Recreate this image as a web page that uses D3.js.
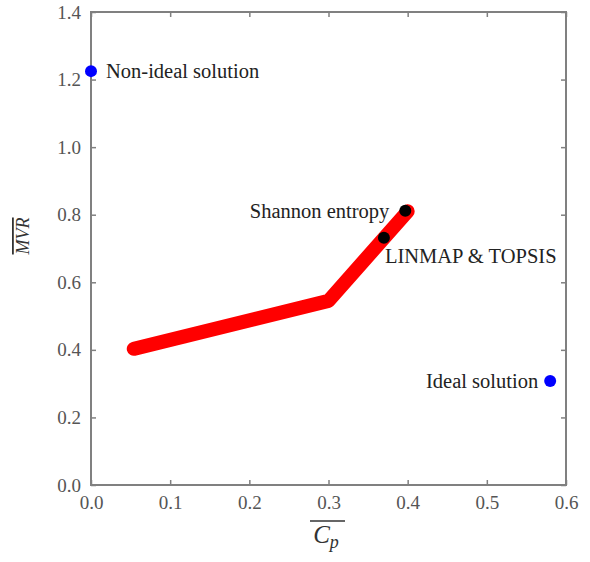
<!DOCTYPE html>
<html>
<head>
<meta charset="utf-8">
<script src="https://cdn.jsdelivr.net/npm/d3@7"></script>
<style>
  body { margin: 0; background: #fff; }
  svg text { font-family: "Liberation Serif", "Times New Roman", serif; }
</style>
</head>
<body>
<svg id="chart" width="590" height="562"></svg>
<script>
// pareto front (red curve)
var frontCp = [0.054, 0.30, 0.40];
var frontMvr = [0.403, 0.545, 0.81];

// decision points
var pointNames = ["Non-ideal solution", "Ideal solution", "Shannon entropy", "LINMAP & TOPSIS"];
var pointCp = [0.0, 0.58, 0.397, 0.37];
var pointMvr = [1.225, 0.308, 0.812, 0.732];
var pointColors = ["#0000ff", "#0000ff", "#000000", "#000000"];

var xTicks = [0, 0.1, 0.2, 0.3, 0.4, 0.5, 0.6];
var yTicks = [0, 0.2, 0.4, 0.6, 0.8, 1.0, 1.2, 1.4];

var svg = d3.select("#chart");
var plotL = 91, plotR = 566, plotT = 12, plotB = 485;

var x = d3.scaleLinear().domain([0, 0.6]).range([plotL, plotR]);
var y = d3.scaleLinear().domain([0, 1.4]).range([plotB, plotT]);

var axisColor = "#808080";

// frame
svg.append("rect")
  .attr("x", plotL).attr("y", plotT)
  .attr("width", plotR - plotL).attr("height", plotB - plotT)
  .attr("fill", "none").attr("stroke", axisColor).attr("stroke-width", 2);

// axes with inward ticks
function styleAxis(g) {
  g.select(".domain").remove();
  g.selectAll(".tick line").attr("stroke", axisColor).attr("stroke-width", 1.5);
  g.selectAll(".tick text").attr("fill", "#555").style("font-size", "19px");
}

svg.append("g").attr("transform", "translate(0," + plotB + ")")
  .call(d3.axisBottom(x).tickValues(xTicks).tickFormat(d3.format(".1f")).tickSizeInner(-5).tickPadding(11))
  .call(styleAxis);
svg.append("g").attr("transform", "translate(0," + plotT + ")")
  .call(d3.axisTop(x).tickValues(xTicks).tickFormat("").tickSizeInner(-5))
  .call(styleAxis);
svg.append("g").attr("transform", "translate(" + plotL + ",0)")
  .call(d3.axisLeft(y).tickValues(yTicks).tickFormat(d3.format(".1f")).tickSizeInner(-5).tickPadding(10))
  .call(styleAxis);
svg.append("g").attr("transform", "translate(" + plotR + ",0)")
  .call(d3.axisRight(y).tickValues(yTicks).tickFormat("").tickSizeInner(-5))
  .call(styleAxis);

// red front
var line = d3.line().x(function (d) { return x(d[0]); }).y(function (d) { return y(d[1]); });
svg.append("path")
  .datum(d3.zip(frontCp, frontMvr))
  .attr("d", line)
  .attr("fill", "none")
  .attr("stroke", "#ff0000")
  .attr("stroke-width", 14)
  .attr("stroke-linecap", "round")
  .attr("stroke-linejoin", "round");

// points
svg.selectAll("circle.pt")
  .data(pointNames)
  .enter().append("circle")
  .attr("class", "pt")
  .attr("cx", function (d, i) { return x(pointCp[i]); })
  .attr("cy", function (d, i) { return y(pointMvr[i]); })
  .attr("r", 6)
  .attr("fill", function (d, i) { return pointColors[i]; });

// labels
var labelOffsets = [[15, 7, "start"], [-12, 7, "end"], [-16, 7, "end"], [1, 25, "start"]];
svg.selectAll("text.lbl")
  .data(pointNames)
  .enter().append("text")
  .attr("class", "lbl")
  .attr("x", function (d, i) { return x(pointCp[i]) + labelOffsets[i][0]; })
  .attr("y", function (d, i) { return y(pointMvr[i]) + labelOffsets[i][1]; })
  .attr("text-anchor", function (d, i) { return labelOffsets[i][2]; })
  .attr("fill", "#222")
  .style("font-size", "20.5px")
  .text(function (d) { return d; });

// axis titles with overlines
var xt = svg.append("text")
  .attr("x", 326).attr("y", 543)
  .attr("text-anchor", "middle")
  .style("font-size", "25px").style("font-style", "italic")
  .attr("fill", "#333");
xt.append("tspan").text("C");
xt.append("tspan").attr("dy", 5).style("font-size", "18px").text("p");
svg.append("line")
  .attr("x1", 310).attr("x2", 345).attr("y1", 521).attr("y2", 521)
  .attr("stroke", "#333").attr("stroke-width", 1.5);

svg.append("text")
  .attr("transform", "translate(29,236) rotate(-90)")
  .attr("text-anchor", "middle")
  .style("font-size", "18px").style("font-style", "italic")
  .style("text-decoration", "overline")
  .attr("fill", "#333")
  .text("MVR");
</script>
</body>
</html>
